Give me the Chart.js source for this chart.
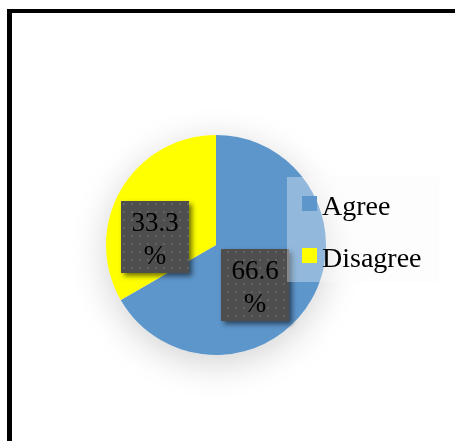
<!DOCTYPE html>
<html>
<head>
<meta charset="utf-8">
<script src="https://cdn.jsdelivr.net/npm/chart.js@4/dist/chart.umd.min.js"></script>
<style>
  html, body { margin: 0; padding: 0; background: #fff; width: 455px; height: 441px; overflow: hidden; }
  #wrap { position: relative; width: 455px; height: 441px; }
  #wrap canvas { position: absolute; left: 0; top: 0; }
  #frame { position: absolute; left: 7px; top: 9px; width: 470px; height: 450px;
           border-top: 4px solid #000; border-left: 5px solid #000; box-sizing: border-box; pointer-events: none; }
</style>
</head>
<body>
<div id="wrap">
  <canvas id="chart" width="455" height="441"></canvas>
  <div id="frame"></div>
</div>
<script>
// Survey answers
const categories = ['Agree', 'Disagree'];
const shares = [66.6, 33.3];

const SERIF = '"Liberation Serif", "Times New Roman", serif';

// Dotted dark fill used behind the percentage labels
function dottedFill(ctx) {
  const tile = document.createElement('canvas');
  tile.width = 8; tile.height = 8;
  const t = tile.getContext('2d');
  t.fillStyle = '#4e4e4e';
  t.fillRect(0, 0, 8, 8);
  t.fillStyle = '#636363';
  t.fillRect(3, 3, 2, 2);
  return ctx.createPattern(tile, 'repeat');
}

// Soft halo under the pie
const pieHalo = {
  id: 'pieHalo',
  beforeDatasetsDraw(chart) {
    const arc = chart.getDatasetMeta(0).data[0];
    if (!arc) return;
    const { x, y, outerRadius } = arc.getProps(['x', 'y', 'outerRadius'], true);
    const ctx = chart.ctx;
    ctx.save();
    ctx.shadowColor = 'rgba(0,0,0,0.18)';
    ctx.shadowBlur = 36;
    ctx.shadowOffsetY = 8;
    ctx.fillStyle = '#ffffff';
    ctx.beginPath();
    ctx.arc(x, y, outerRadius, 0, Math.PI * 2);
    ctx.fill();
    ctx.restore();
  }
};

// Percentage labels in dark boxes, placed relative to the pie centre
const valueBoxes = {
  id: 'valueBoxes',
  afterDatasetsDraw(chart, args, opts) {
    const meta = chart.getDatasetMeta(0);
    const arc = meta.data[0];
    if (!arc) return;
    const { x, y, outerRadius: r } = arc.getProps(['x', 'y', 'outerRadius'], true);
    const ctx = chart.ctx;
    const fill = dottedFill(ctx);
    const values = chart.data.datasets[0].data;
    values.forEach((v, i) => {
      const [fx, fy] = opts.offsets[i];
      const cx = x + fx * r, cy = y + fy * r;
      const w = opts.width, h = opts.height;
      const left = Math.round(cx - w / 2), top = Math.round(cy - h / 2);
      ctx.save();
      ctx.shadowColor = 'rgba(0,0,0,0.55)';
      ctx.shadowBlur = 5;
      ctx.shadowOffsetX = 3;
      ctx.shadowOffsetY = 3;
      ctx.fillStyle = '#4e4e4e';
      ctx.fillRect(left, top, w, h);
      ctx.restore();
      ctx.save();
      ctx.fillStyle = fill;
      ctx.fillRect(left, top, w, h);
      ctx.fillStyle = '#000000';
      ctx.font = '27px ' + SERIF;
      ctx.textAlign = 'center';
      ctx.textBaseline = 'alphabetic';
      ctx.fillText(v.toFixed(1), left + w / 2, top + 30);
      ctx.fillText('%', left + w / 2, top + 63);
      ctx.restore();
    });
  }
};

// Legend panel overlapping the right edge of the pie
const legendPanel = {
  id: 'legendPanel',
  afterDraw(chart, args, opts) {
    const arc = chart.getDatasetMeta(0).data[0];
    if (!arc) return;
    const { x, y } = arc.getProps(['x', 'y'], true);
    const ctx = chart.ctx;
    const left = x + opts.dx, top = y + opts.dy;
    ctx.save();
    ctx.fillStyle = 'rgba(250,250,250,0.34)';
    ctx.fillRect(left, top, opts.width, opts.height);
    const colors = chart.data.datasets[0].backgroundColor;
    ctx.font = '28px ' + SERIF;
    ctx.textBaseline = 'alphabetic';
    ctx.textAlign = 'left';
    chart.data.labels.forEach((label, i) => {
      const rowY = top + opts.firstRow + i * opts.rowGap;
      ctx.fillStyle = colors[i];
      ctx.fillRect(left + 15, rowY - 7.5, 15, 15);
      ctx.fillStyle = '#000000';
      ctx.fillText(label, left + 35, rowY + 11);
    });
    ctx.restore();
  }
};

new Chart(document.getElementById('chart'), {
  type: 'pie',
  data: {
    labels: categories,
    datasets: [{
      data: shares,
      backgroundColor: ['#5d96cb', '#ffff00'],
      borderWidth: 0
    }]
  },
  options: {
    responsive: false,
    animation: false,
    layout: { padding: { left: 106, top: 135, right: 129, bottom: 86 } },
    plugins: {
      legend: { display: false },
      tooltip: { enabled: false },
      title: { display: false },
      valueBoxes: {
        width: 68, height: 72,
        offsets: [[0.35, 0.366], [-0.556, -0.073]]
      },
      legendPanel: { dx: 71, dy: -68, width: 152, height: 105, firstRow: 26.5, rowGap: 52 }
    }
  },
  plugins: [pieHalo, valueBoxes, legendPanel]
});
</script>
</body>
</html>
